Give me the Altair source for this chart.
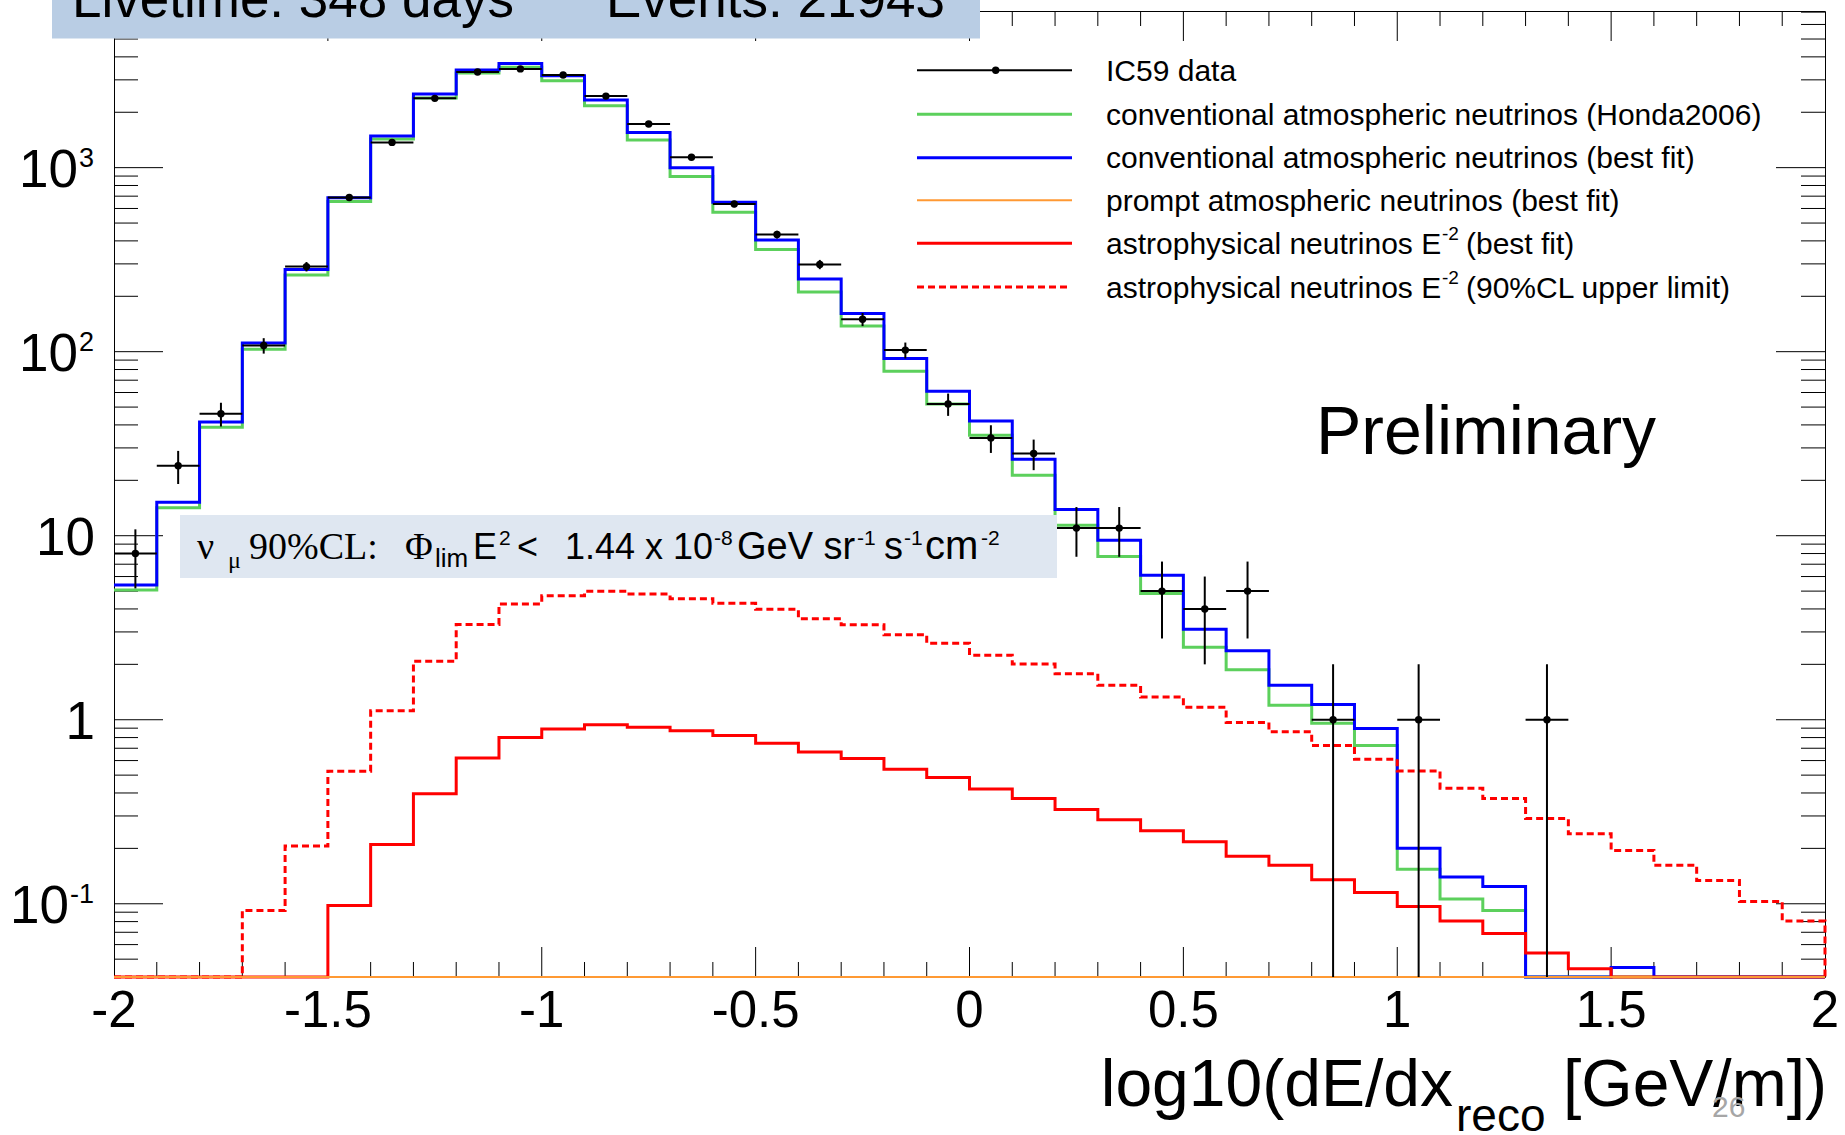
import math
import altair as alt
import pandas as pd

SANS = "Liberation Sans, Arial, Helvetica, sans-serif"
SERIF = "Liberation Serif, Times New Roman, serif"

# ---------------- data ----------------
# 40 bins of width 0.1 from -2 to 2 ; values listed per bin (left to right)
bin_lo = [round(-2.0 + 0.1 * i, 1) for i in range(40)]
bin_center = [round(b + 0.05, 2) for b in bin_lo]

data_counts = [8, 24, 46, 108, 290, 688, 1372, 2380, 3310, 3440,
               3190, 2448, 1727, 1138, 635, 433, 298, 150, 102, 52,
               34, 28, 11, 11, 5, 4, 5, 0, 1, 0,
               1, 0, 0, 1, 0, 0, 0, 0, 0, 0]

conv_honda = [5.07, 14.2, 38.8, 103, 261, 655, 1432, 2393, 3267, 3508,
              2968, 2172, 1412, 896, 573, 359, 211, 138, 78.3, 52,
              35.2, 21.3, 11.4, 7.7, 4.85, 2.48, 1.87, 1.2, 0.957, 0.724,
              0.154, 0.106, 0.092, 0, 0, 0, 0, 0, 0, 0]

conv_fit = [5.4, 15.2, 41.5, 111.6, 280, 687, 1488, 2512, 3396, 3683,
            3161, 2334, 1553, 1000, 648, 405, 248, 161, 91.8, 61,
            42, 26, 13.9, 9.45, 6.1, 3.1, 2.37, 1.54, 1.21, 0.895,
            0.2, 0.14, 0.124, 0, 0, 0.045, 0, 0, 0, 0]

prompt_fit = [0, 0, 0, 0, 0, 0, 0, 0, 0, 0,
              0, 0, 0, 0, 0, 0, 0, 0, 0, 0,
              0, 0, 0, 0, 0, 0, 0, 0, 0, 0,
              0, 0, 0, 0, 0, 0, 0, 0, 0, 0]

astro_fit = [0, 0, 0, 0, 0, 0.098, 0.21, 0.396, 0.62, 0.80,
             0.89, 0.94, 0.91, 0.87, 0.82, 0.745, 0.668, 0.615, 0.539, 0.485,
             0.421, 0.373, 0.325, 0.286, 0.249, 0.217, 0.181, 0.162, 0.135, 0.115,
             0.0967, 0.0805, 0.069, 0.054, 0.0444, 0, 0, 0, 0, 0]

astro_limit = [0, 0, 0, 0.092, 0.206, 0.525, 1.12, 2.08, 3.29, 4.26,
               4.72, 4.99, 4.82, 4.55, 4.3, 3.99, 3.54, 3.28, 2.9, 2.60,
               2.24, 2.01, 1.78, 1.54, 1.33, 1.17, 0.965, 0.86, 0.724, 0.61,
               0.527, 0.425, 0.373, 0.291, 0.24, 0.195, 0.162, 0.134, 0.103, 0.0805]

x_tick_labels = ["-2", "-1.5", "-1", "-0.5", "0", "0.5", "1", "1.5", "2"]
x_tick_values = [-2, -1.5, -1, -0.5, 0, 0.5, 1, 1.5, 2]
y_label_values = [1000, 100, 10, 1, 0.1]
y_label_base = ["10", "10", "10", "1", "10"]
y_label_exp = ["3", "2", "", "", "-1"]

legend_labels = [
    "IC59 data",
    "conventional atmospheric neutrinos (Honda2006)",
    "conventional atmospheric neutrinos (best fit)",
    "prompt atmospheric neutrinos (best fit)",
    "astrophysical neutrinos E",
    "astrophysical neutrinos E",
]

# ---------------- layout ----------------
W, H = 1711, 966          # plot area
L, T = 114, 11            # plot area origin on the page
FLOOR = 1e-3              # zero bins drawn on the bottom edge (clamped)

xs = alt.Scale(domain=[-2, 2], nice=False, zero=False)
ys = alt.Scale(type="log", domain=[0.04, 7100], nice=False, clamp=True)

one = pd.DataFrame({"k": [0]})


def px(x):
    return x - L


def py(y):
    return y - T


def txt(s, x, y, size, font=SANS, align="left", color="black"):
    return alt.Chart(one).mark_text(
        text=s, font=font, fontSize=size, align=align,
        baseline="alphabetic", color=color
    ).encode(x=alt.value(px(x)), y=alt.value(py(y)))


def hseg(x1, x2, y, color, width, dash=None):
    kw = dict(color=color, strokeWidth=width, strokeCap="butt")
    if dash:
        kw["strokeDash"] = dash
    return alt.Chart(one).mark_rule(**kw).encode(
        x=alt.value(px(x1)), x2=alt.value(px(x2)), y=alt.value(py(y)))


def rect(x1, x2, y1, y2, color):
    return alt.Chart(one).mark_rect(color=color).encode(
        x=alt.value(px(x1)), x2=alt.value(px(x2)),
        y=alt.value(py(y1)), y2=alt.value(py(y2)))


layers = []

# ---------------- ticks (inside, ROOT style) ----------------
x_minor = [round(-2 + 0.1 * i, 1) for i in range(1, 40)]
x_minor = [v for v in x_minor if abs(v * 2 - round(v * 2)) > 1e-6]
y_minor = []
for dec in [0.01, 0.1, 1, 10, 100, 1000]:
    for k in range(2, 10):
        v = k * dec
        if 0.04 < v < 7100:
            y_minor.append(v)


def xticks(vals, length):
    d = pd.DataFrame({"v": vals})
    enc_x = alt.X("v:Q", scale=xs, axis=None)
    return [
        alt.Chart(d).mark_rule(color="black", strokeWidth=1).encode(
            x=enc_x, y=alt.value(H), y2=alt.value(H - length)),
        alt.Chart(d).mark_rule(color="black", strokeWidth=1).encode(
            x=enc_x, y=alt.value(0), y2=alt.value(length)),
    ]


def yticks(vals, length):
    d = pd.DataFrame({"v": vals})
    enc_y = alt.Y("v:Q", scale=ys, axis=None)
    return [
        alt.Chart(d).mark_rule(color="black", strokeWidth=1).encode(
            y=enc_y, x=alt.value(0), x2=alt.value(length)),
        alt.Chart(d).mark_rule(color="black", strokeWidth=1).encode(
            y=enc_y, x=alt.value(W - length), x2=alt.value(W)),
    ]


layers += xticks(x_tick_values[1:-1], 30)
layers += xticks(x_minor, 15)
layers += yticks(y_label_values, 49)
layers += yticks(y_minor, 24)

# ---------------- histograms ----------------


def hist_df(vals):
    xv = bin_lo + [2.0]
    yv = [max(v, FLOOR) for v in vals] + [FLOOR]
    return pd.DataFrame({"x": xv, "y": yv})


def hist_line(vals, color, width, dash=None):
    kw = dict(interpolate="step-after", color=color, strokeWidth=width,
              strokeJoin="miter", strokeCap="butt")
    if dash:
        kw["strokeDash"] = dash
    return alt.Chart(hist_df(vals)).mark_line(**kw).encode(
        x=alt.X("x:Q", scale=xs, axis=None),
        y=alt.Y("y:Q", scale=ys, axis=None),
    )


GREEN = "#5cd05c"
BLUE = "#0000ff"
ORANGE = "#ff9933"
RED = "#ff0000"

layers.append(hist_line(conv_honda, GREEN, 3))
layers.append(hist_line(conv_fit, BLUE, 3))
layers.append(hist_line(astro_limit, RED, 3, [7, 4]))
layers.append(hist_line(astro_fit, RED, 3))
layers.append(hist_line(prompt_fit, ORANGE, 2))

# ---------------- data points with Poisson errors ----------------
rows = []
for c, n in zip(bin_center, data_counts):
    if n > 0:
        e = math.sqrt(n)
        rows.append({"c": c, "n": n, "x1": c - 0.05, "x2": c + 0.05,
                     "lo": max(n - e, FLOOR), "hi": n + e})
pts = pd.DataFrame(rows)
layers.append(alt.Chart(pts).mark_rule(color="black", strokeWidth=2).encode(
    x=alt.X("x1:Q", scale=xs, axis=None), x2="x2:Q",
    y=alt.Y("n:Q", scale=ys, axis=None)))
layers.append(alt.Chart(pts).mark_rule(color="black", strokeWidth=2).encode(
    x=alt.X("c:Q", scale=xs, axis=None),
    y=alt.Y("lo:Q", scale=ys, axis=None), y2="hi:Q"))
layers.append(alt.Chart(pts).mark_circle(color="black", size=55, opacity=1).encode(
    x=alt.X("c:Q", scale=xs, axis=None),
    y=alt.Y("n:Q", scale=ys, axis=None)))

# ---------------- axis labels ----------------
xl = pd.DataFrame({"v": x_tick_values, "t": x_tick_labels})
layers.append(alt.Chart(xl).mark_text(
    font=SANS, fontSize=51, align="center", baseline="alphabetic", color="black"
).encode(x=alt.X("v:Q", scale=xs, axis=None), y=alt.value(py(1027)), text="t:N"))


def exp_width(s, size):
    return sum(0.333 if ch == "-" else 0.556 for ch in s) * size


for v, b, e in zip(y_label_values, y_label_base, y_label_exp):
    d = pd.DataFrame({"v": [v]})
    right = -19
    if e:
        right = -19 - exp_width(e, 27) - 2
        layers.append(alt.Chart(d).mark_text(
            text=e, font=SANS, fontSize=27, align="left", baseline="alphabetic",
            color="black", dy=-1
        ).encode(x=alt.value(right + 1), y=alt.Y("v:Q", scale=ys, axis=None)))
    layers.append(alt.Chart(d).mark_text(
        text=b, font=SANS, fontSize=53, align="right", baseline="alphabetic",
        color="black", dy=19
    ).encode(x=alt.value(right), y=alt.Y("v:Q", scale=ys, axis=None)))

# x axis title with subscript
layers.append(txt("log10(dE/dx", 1453, 1106, 66, align="right"))
layers.append(txt("reco", 1456, 1131, 46))
layers.append(txt("[GeV/m])", 1827, 1106, 66, align="right"))
layers.append(txt("26", 1712, 1117, 30, color="#a6a6a6"))

# ---------------- legend ----------------
leg_y = [70.3, 114.3, 157.7, 200.3, 243.3, 287.0]
LX1, LX2, LTX = 917, 1072, 1106
layers.append(hseg(LX1, LX2, leg_y[0], "black", 2))
layers.append(alt.Chart(one).mark_circle(color="black", size=55, opacity=1).encode(
    x=alt.value(px(995.7)), y=alt.value(py(leg_y[0]))))
layers.append(hseg(LX1, LX2, leg_y[1], GREEN, 3))
layers.append(hseg(LX1, LX2, leg_y[2], BLUE, 3))
layers.append(hseg(LX1, LX2, leg_y[3], ORANGE, 2))
layers.append(hseg(LX1, LX2, leg_y[4], RED, 3))
layers.append(hseg(LX1, 1067, leg_y[5], RED, 3, [7, 4]))
for i in range(6):
    layers.append(txt(legend_labels[i], LTX, leg_y[i] + 10.6, 30))
for i, tail in [(4, "(best fit)"), (5, "(90%CL upper limit)")]:
    layers.append(txt("-2", 1442, leg_y[i] - 3, 19))
    layers.append(txt(tail, 1466, leg_y[i] + 10.6, 30))

# ---------------- "Preliminary" ----------------
layers.append(txt("Preliminary", 1316, 454, 68))

# ---------------- limit annotation box ----------------
layers.append(rect(180, 1057, 515, 578, "#dfe7f1"))
AB = 559
layers.append(txt("ν", 197, AB, 38, font=SERIF))
layers.append(txt("μ", 228, AB + 9, 24, font=SERIF))
layers.append(txt("90%CL:", 249, AB, 38, font=SERIF))
layers.append(txt("Φ", 405, AB, 38, font=SERIF))
layers.append(txt("lim", 435, AB + 8, 26))
layers.append(txt("E", 473, AB, 36))
layers.append(txt("2", 499, AB - 14, 21))
layers.append(txt("<", 517, AB, 36))
layers.append(txt("1.44 x 10", 565, AB, 36))
layers.append(txt("-8", 714, AB - 14, 21))
layers.append(txt("GeV sr", 737, AB, 38))
layers.append(txt("-1", 857, AB - 14, 21))
layers.append(txt("s", 884, AB, 38))
layers.append(txt("-1", 904, AB - 14, 21))
layers.append(txt("cm", 925, AB, 40))
layers.append(txt("-2", 981, AB - 14, 21))

# ---------------- livetime banner (cut at the top of the page) ----------------
layers.append(rect(52, 980, 0, 38.5, "#b9cde4"))
layers.append(txt("Livetime: 348 days", 72, 17, 53))
layers.append(txt("Events: 21943", 606, 17, 53))

chart = alt.layer(*layers).properties(
    width=W, height=H,
    autosize=alt.AutoSizeParams(type="none"),
    padding={"left": L, "top": T, "right": 1845 - L - W, "bottom": 1135 - T - H},
    background="white",
).configure_view(stroke="black", strokeWidth=1)

chart.save("out.html", embed_options={"renderer": "svg", "actions": False})
